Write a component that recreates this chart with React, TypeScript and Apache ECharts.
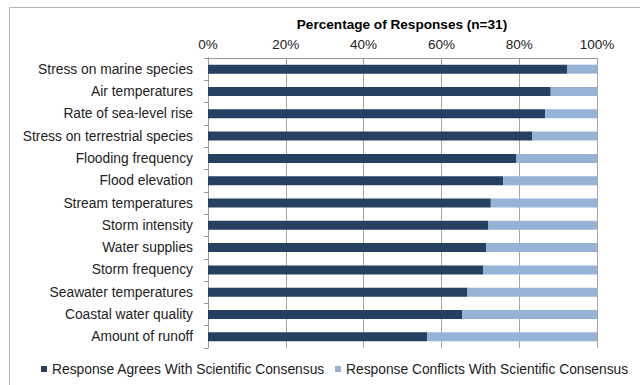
import React, { useEffect, useRef } from "react";
import * as echarts from "echarts";

const categories = [
  "Stress on marine species",
  "Air temperatures",
  "Rate of sea-level rise",
  "Stress on terrestrial species",
  "Flooding frequency",
  "Flood elevation",
  "Stream temperatures",
  "Storm intensity",
  "Water supplies",
  "Storm frequency",
  "Seawater temperatures",
  "Coastal water quality",
  "Amount of runoff",
];
const agrees = [92.4, 88.1, 86.7, 83.4, 79.3, 75.9, 72.7, 72.1, 71.5, 70.8, 66.7, 65.3, 56.4];
const conflicts = [7.6, 11.9, 13.3, 16.6, 20.7, 24.1, 27.3, 27.9, 28.5, 29.2, 33.3, 34.7, 43.6];
const seriesNames = ["Response Agrees With Scientific Consensus", "Response Conflicts With Scientific Consensus"];
const titleText = "Percentage of Responses (n=31)";

const FONT = "Liberation Sans, Arial, Helvetica, sans-serif";

export default function App() {
  const ref = useRef<HTMLDivElement>(null);
  useEffect(() => {
    if (!ref.current) return;
    const chart = echarts.init(ref.current, null, { renderer: "svg" });
    const legendBase = {
      top: 357,
      itemWidth: 6,
      itemHeight: 6,
      icon: "rect",
      orient: "horizontal",
      textStyle: { fontSize: 13.8, color: "#222", fontFamily: FONT },
    };
    chart.setOption({
      animation: false,
      backgroundColor: "#ffffff",
      textStyle: { fontFamily: FONT },
      graphic: [
        {
          type: "rect",
          shape: { x: 9.5, y: 7.5, width: 700, height: 400 },
          style: { fill: "none", stroke: "#b5b5b5", lineWidth: 1 },
          silent: true,
        },
        {
          type: "text",
          x: 402,
          y: 24,
          style: {
            text: titleText,
            fontFamily: FONT,
            fontSize: 13.6,
            fontWeight: "bold",
            fill: "#000",
            align: "center",
            verticalAlign: "middle",
          },
        },
      ],
      legend: [
        { ...legendBase, left: 36, data: [seriesNames[0]] },
        { ...legendBase, left: 330, data: [seriesNames[1]] },
      ],
      grid: { left: 208, right: 43, top: 58, bottom: 37, containLabel: false },
      xAxis: {
        type: "value",
        position: "top",
        min: 0,
        max: 100,
        interval: 20,
        axisLabel: { formatter: "{value}%", fontSize: 13.5, color: "#222", margin: 7, fontFamily: FONT },
        axisLine: { show: true, lineStyle: { color: "#9a9a9a" } },
        axisTick: { show: true, inside: true, length: 4, lineStyle: { color: "#9a9a9a" } },
        splitLine: { show: true, lineStyle: { color: "#a6a6a6", width: 1 } },
      },
      yAxis: {
        type: "category",
        data: categories,
        inverse: true,
        axisLabel: { fontSize: 13.8, color: "#222", margin: 15, fontFamily: FONT },
        axisLine: { show: true, lineStyle: { color: "#9a9a9a" } },
        axisTick: { show: true, length: 4, lineStyle: { color: "#9a9a9a" } },
        splitLine: { show: false },
      },
      series: [
        {
          name: seriesNames[0],
          type: "bar",
          stack: "total",
          data: agrees,
          barWidth: 9,
          itemStyle: { color: "#254061" },
        },
        {
          name: seriesNames[1],
          type: "bar",
          stack: "total",
          data: conflicts,
          barWidth: 9,
          itemStyle: { color: "#95B3D7" },
        },
      ],
    });
    return () => chart.dispose();
  }, []);
  return (
    <div
      ref={ref}
      style={{ position: "absolute", left: 0, top: 0, width: 640, height: 385 }}
    />
  );
}
